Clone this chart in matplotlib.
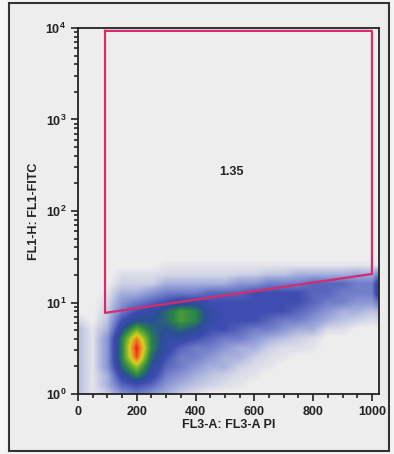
import numpy as np
import matplotlib
matplotlib.use("Agg")
import matplotlib.pyplot as plt
from matplotlib.colors import LinearSegmentedColormap
from matplotlib.ticker import MultipleLocator, LogLocator

plt.rcParams['font.family'] = ['Liberation Sans', 'DejaVu Sans']
plt.rcParams['font.weight'] = 'bold'

# event density (0 = empty ... 9 = red core)
# one list per FL3-A position, values from log10(FL1) = 0.0 up to 1.7
x_centers = [0, 50, 100, 150, 200, 250, 300, 350, 400, 450, 500,
             550, 600, 650, 700, 750, 800, 850, 900, 950, 1000, 1050]
log_y_centers = [0.0, 0.1, 0.2, 0.3, 0.4, 0.5, 0.6, 0.7, 0.8,
                 0.9, 1.0, 1.1, 1.2, 1.3, 1.4, 1.5, 1.6, 1.7]
dens_columns = [
    [0.8, 0.8, 0.8, 0.8, 0.8, 0.8, 0.8, 0.8, 0.4, 0, 0, 0, 0, 0, 0, 0, 0, 0],
    [0.2, 0.2, 0.2, 0.2, 0.2, 0.2, 0.2, 0.2, 0, 0, 0, 0, 0, 0, 0, 0, 0, 0],
    [0.5, 1, 1, 1.5, 1.5, 1.5, 1.5, 1, 0.7, 0.5, 0.3, 0.2, 0, 0, 0, 0, 0, 0],
    [1.5, 2.5, 3.5, 4.5, 5, 5, 5, 4, 3, 2, 1.5, 1, 0.5, 0.3, 0, 0, 0, 0],
    [2, 3, 5, 6.5, 8.5, 9, 8, 6, 4, 3, 2, 1, 0.5, 0.3, 0, 0, 0, 0],
    [1.5, 2.5, 3.5, 4, 4.5, 5, 5, 4.5, 4, 3.5, 2.5, 1.5, 0.5, 0.3, 0, 0, 0, 0],
    [1, 1.5, 2, 2.5, 3, 3.5, 3.5, 4, 4.5, 4.5, 3, 2, 1, 0.4, 0.2, 0, 0, 0],
    [0.5, 1, 1.5, 2, 2, 2.5, 3.5, 4.5, 5.5, 5.5, 3.5, 2, 1, 0.4, 0.2, 0, 0, 0],
    [0.3, 0.7, 1, 1.5, 2, 2, 3, 4, 5, 5, 3.5, 2, 1, 0.4, 0.2, 0, 0, 0],
    [0, 0.5, 0.7, 1, 1.5, 2, 2.5, 3, 3.5, 3.5, 3, 2.5, 1, 0.4, 0.2, 0, 0, 0],
    [0, 0.3, 0.5, 1, 1, 1.5, 2, 3, 3, 3, 3, 2.5, 1, 0.4, 0.2, 0, 0, 0],
    [0, 0.2, 0.3, 0.5, 1, 1, 2, 2.5, 3, 3, 3, 2.5, 1.5, 0.5, 0.2, 0, 0, 0],
    [0, 0, 0.2, 0.3, 0.5, 1, 1.5, 2, 3, 3, 3, 3, 1.5, 0.5, 0.2, 0, 0, 0],
    [0, 0, 0, 0.2, 0.3, 0.5, 1, 2, 2.5, 3, 3, 3, 2, 0.7, 0.2, 0, 0, 0],
    [0, 0, 0, 0, 0.2, 0.3, 0.7, 1.5, 2, 3, 3, 3, 2, 0.7, 0.2, 0, 0, 0],
    [0, 0, 0, 0, 0, 0.3, 0.5, 1, 2, 2.5, 3, 3, 2, 1, 0.2, 0, 0, 0],
    [0, 0, 0, 0, 0, 0.2, 0.3, 1, 1.5, 2, 2.5, 2.5, 2.5, 1, 0.2, 0, 0, 0],
    [0, 0, 0, 0, 0, 0, 0, 0.3, 1, 1.5, 2, 2.5, 2.5, 1, 0.2, 0, 0, 0],
    [0, 0, 0, 0, 0, 0, 0, 0.3, 0.7, 1, 2, 2, 2.5, 1, 0.2, 0, 0, 0],
    [0, 0, 0, 0, 0, 0, 0, 0, 0.5, 1, 1.5, 2, 2, 1.2, 0.2, 0, 0, 0],
    [0, 0, 0, 0, 0, 0, 0, 0, 0.3, 0.7, 1.5, 2, 2, 1, 0.2, 0, 0, 0],
    [0, 0, 0, 0, 0, 0, 0, 0, 0.5, 1, 3, 6, 6, 3, 0, 0, 0, 0],
]

# gate polygon (FL3-A, FL1-H)
gate_x = [92, 1000, 1000, 92, 92]
gate_y = [9300, 9300, 20.5, 7.7, 9300]
gate_label = "1.35"
gate_label_pos = (522, 268)

bg = '#ededed'
cmap = LinearSegmentedColormap.from_list('facs', [
    (0.0, bg), (0.5 / 9, '#c8cce4'), (1 / 9, '#a3acdc'), (2 / 9, '#6e7cc8'),
    (3 / 9, '#3e4cb0'), (4 / 9, '#2a4f95'), (5 / 9, '#2a8548'),
    (6 / 9, '#6cb030'), (7 / 9, '#d8d020'), (8 / 9, '#f08020'),
    (1.0, '#e82020')])
cmap.set_under(bg)

fig = plt.figure(figsize=(3.94, 4.54), dpi=100, facecolor='#f4f4f4')
fig.patches.append(plt.Rectangle((9 / 394, 3 / 454), 380 / 394, 448 / 454,
                                 transform=fig.transFigure, facecolor=bg,
                                 edgecolor='#333333', lw=1.5, zorder=-10))
rect = [78 / 394, 60 / 454, 301 / 394, 366 / 454]

# density drawn in log10 units on a hidden linear axes under the log axes
ax_d = fig.add_axes(rect, zorder=1)
ax_d.set_facecolor(bg)
C = np.array(dens_columns).T
dx = (x_centers[1] - x_centers[0]) / 2
dy = (log_y_centers[1] - log_y_centers[0]) / 2
ax_d.imshow(C, origin='lower', aspect='auto', interpolation='bilinear',
            cmap=cmap, vmin=0.05, vmax=9,
            extent=[x_centers[0] - dx, x_centers[-1] + dx,
                    log_y_centers[0] - dy, log_y_centers[-1] + dy])
ax_d.set_xlim(0, 1024)
ax_d.set_ylim(0, 4)
ax_d.axis('off')

ax = fig.add_axes(rect, zorder=2)
ax.set_facecolor('none')
ax.set_yscale('log')
ax.plot(gate_x, gate_y, color='#d42c6c', lw=1.6)
ax.text(*gate_label_pos, gate_label, ha='center', va='center',
        fontsize=9, fontweight='bold', color='#222222')

ax.set_xlim(0, 1024)
ax.set_ylim(1, 1e4)
ax.xaxis.set_major_locator(MultipleLocator(200))
ax.xaxis.set_minor_locator(MultipleLocator(50))
ax.yaxis.set_major_locator(LogLocator(base=10, numticks=10))
ax.yaxis.set_minor_locator(LogLocator(base=10, subs=np.arange(2, 10), numticks=20))
ax.tick_params(which='both', direction='out', color='#222222', width=1.2,
               labelsize=9, labelcolor='#222222')
ax.tick_params(which='major', length=5)
ax.tick_params(which='minor', length=3)
for sp in ax.spines.values():
    sp.set_color('#222222')
    sp.set_linewidth(1.3)

ax.set_xlabel('FL3-A: FL3-A PI', fontsize=9, fontweight='bold',
              color='#222222', labelpad=1)
ax.set_ylabel('FL1-H: FL1-FITC', fontsize=9, fontweight='bold',
              color='#222222', labelpad=4)

fig.savefig('out.png', dpi=100, facecolor=fig.get_facecolor())
